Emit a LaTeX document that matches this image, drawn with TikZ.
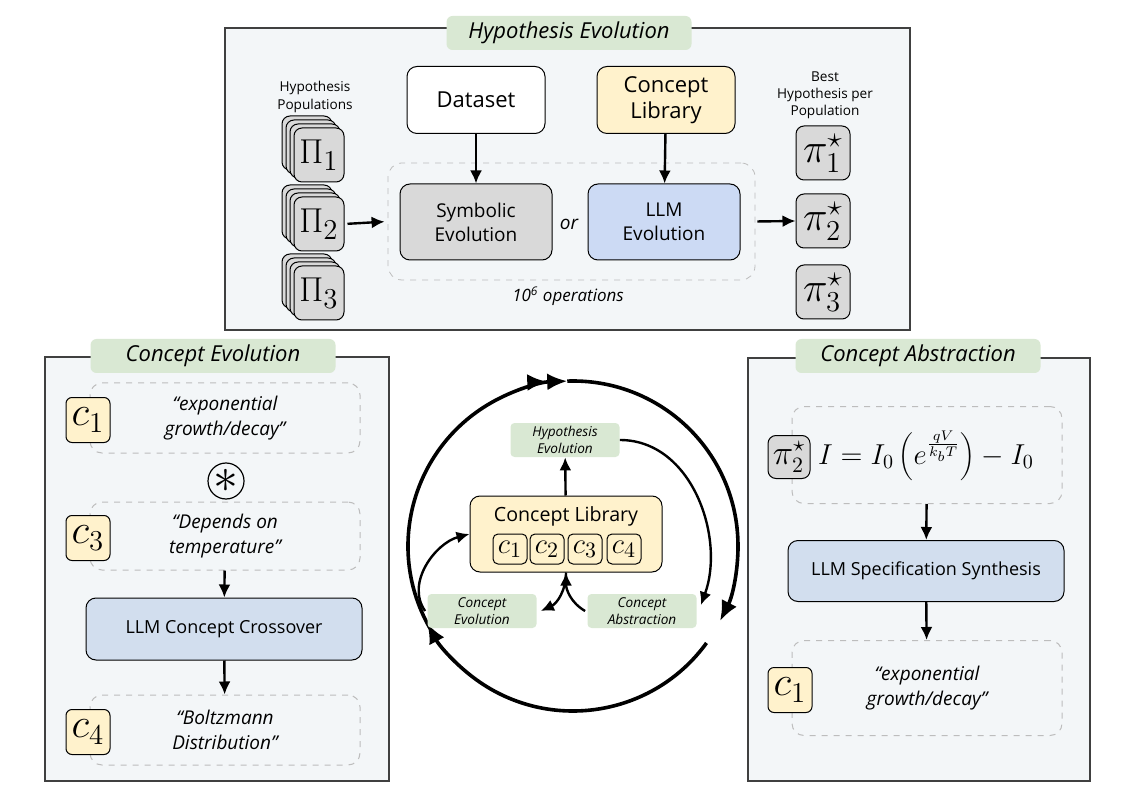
\documentclass[tikz,border=0pt]{standalone}
\usepackage[no-math]{fontspec}
\setmainfont{Open Sans}
\usetikzlibrary{arrows.meta,positioning}

\definecolor{panelfill}{HTML}{F3F6F8}
\definecolor{titlegreen}{HTML}{D9E8D3}
\definecolor{libyellow}{HTML}{FFF2CC}
\definecolor{evogray}{HTML}{D9D9D9}
\definecolor{llmblue}{HTML}{CCDAF4}
\definecolor{synthblue}{HTML}{D2DEEE}
\definecolor{dashgray}{HTML}{BDBDBD}

\tikzset{
  panel/.style={draw=black!75, line width=0.8pt, fill=panelfill},
  paneltitle/.style={fill=titlegreen, rounded corners=3pt, inner sep=0pt,
    minimum width=122.5pt, minimum height=17pt, font=\fontsize{11}{13}\selectfont\itshape},
  looptag/.style={fill=titlegreen, rounded corners=2pt, align=center, inner sep=0pt,
    minimum width=54.5pt, minimum height=17pt, font=\fontsize{6.8}{8.6}\selectfont\itshape},
  block/.style={draw, rounded corners=5pt, align=center, line width=0.5pt, inner sep=0pt},
  popbox/.style={draw, fill=evogray, rounded corners=4pt, line width=0.5pt,
    minimum width=25pt, minimum height=27pt, inner sep=0pt, font=\fontsize{19}{19}\selectfont},
  bestbox/.style={popbox, minimum width=27pt, font=\fontsize{20}{20}\selectfont},
  cbox/.style={draw, fill=libyellow, rounded corners=3pt, line width=0.5pt, inner sep=0pt,
    minimum width=22pt, minimum height=22.5pt, font=\fontsize{22}{22}\selectfont},
  smallc/.style={draw, rounded corners=2.5pt, line width=0.5pt, inner sep=0pt,
    minimum width=17pt, minimum height=15pt, font=\fontsize{15}{15}\selectfont},
  idea/.style={draw=dashgray, dashed, rounded corners=6pt, line width=0.5pt, align=center,
    inner sep=0pt, minimum width=135pt, font=\fontsize{9.5}{12.5}\selectfont\itshape},
  smalltxt/.style={align=center, font=\fontsize{6.8}{8.6}\selectfont},
  flow/.style={-{Latex[length=6.5pt,width=6pt]}, line width=1.2pt},
  cyc/.style={line width=1.8pt},
}

\begin{document}
\begin{tikzpicture}[x=0.5pt, y=0.5pt]
\useasboundingbox (0,0) rectangle (1122,-806);

% Hypothesis Evolution
\draw[panel] (225,-28) rectangle (910,-330);
\node[paneltitle] (hevtitle) at (569,-33) {Hypothesis Evolution};

\node[smalltxt] (poplabel) at (315,-97) {Hypothesis\\Populations};
\foreach \i/\y in {1/155,2/224,3/293} {
  \foreach \s in {12,8,4}
    \node[popbox] at (319-\s,-\y+\s) {};
  \node[popbox] (pop\i) at (319,-\y) {$\Pi_\i$};
}

\node[smalltxt] (bestlabel) at (825,-95) {Best\\Hypothesis per\\Population};
\foreach \i/\y in {1/153,2/221,3/292}
  \node[bestbox] (best\i) at (823,-\y) {$\pi^\star_\i$};

\node[draw=dashgray, dashed, rounded corners=7pt, minimum width=183.5pt,
  minimum height=58.5pt] (ops) at (571.5,-221.5) {};
\node[block, fill=white, minimum width=69pt, minimum height=33.5pt,
  font=\fontsize{11}{13}\selectfont] (data) at (476,-100) {Dataset};
\node[block, fill=libyellow, minimum width=69pt, minimum height=33.5pt,
  font=\fontsize{11}{13}\selectfont] (lib) at (666,-100) {Concept\\Library};
\node[block, fill=evogray, minimum width=76pt, minimum height=38pt,
  font=\fontsize{9.5}{12}\selectfont] (sym) at (476,-222) {Symbolic\\Evolution};
\node[block, fill=llmblue, minimum width=76pt, minimum height=38pt,
  font=\fontsize{9.5}{12}\selectfont] (llmevo) at (664,-222) {LLM\\Evolution};
\node[font=\fontsize{9.5}{12}\selectfont\itshape] (ortxt) at (569,-224) {or};
\node[font=\fontsize{8.5}{10}\selectfont\itshape] (opstxt) at (568,-296) {10\textsuperscript{6} operations};

\draw[flow] (data) -- (sym);
\draw[flow] (lib) -- (llmevo);
\draw[flow, shorten <=1.5pt, shorten >=1.5pt] (pop2.east) -- (ops.west);
\draw[flow, shorten <=1pt] (ops.east) -- (best2.west);

% Concept Evolution
\draw[panel] (45,-357) rectangle (389,-781);
\node[paneltitle] (cevtitle) at (213,-356) {Concept Evolution};

\node[idea, minimum height=35pt] (evo1) at (225,-418) {“exponential\\growth/decay”};
\node[idea, minimum height=34pt] (evo2) at (225,-536) {“Depends on\\temperature”};
\node[idea, minimum height=35pt] (evo3) at (225,-730) {“Boltzmann\\Distribution”};
\node[cbox] (ce1) at (88,-420) {$c_1$};
\node[cbox] (ce3) at (88,-538) {$c_3$};
\node[cbox] (ce4) at (88,-732) {$c_4$};
\node[draw, circle, line width=0.6pt, minimum size=18pt, inner sep=0pt,
  font=\fontsize{24}{24}\selectfont] (mix) at (226,-481) {\raisebox{-0.6ex}{$\ast$}};
\node[block, fill=synthblue, minimum width=138pt, minimum height=31pt,
  font=\fontsize{9}{11}\selectfont] (cross) at (224,-629) {LLM Concept Crossover};
\draw[flow] (evo2) -- (cross);
\draw[flow] (cross) -- (evo3);

% Concept Abstraction
\draw[panel] (748,-358) rectangle (1090,-781);
\node[paneltitle] (cabtitle) at (918,-356) {Concept Abstraction};

\node[idea, minimum height=48.5pt] (spec) at (927,-455) {};
\node[idea, minimum height=47.5pt] (abs1) at (927,-688) {“exponential\\growth/decay”};
\node[bestbox, minimum width=21pt, minimum height=21.5pt,
  font=\fontsize{16}{16}\selectfont] (pick) at (789,-457) {$\pi^\star_2$};
\node[font=\fontsize{13.6}{14}\selectfont] (eqn) at (926,-456)
  {$I = I_0\left(e^{\frac{qV}{k_bT}}\right) - I_0$};
\node[cbox] (ca1) at (790,-690) {$c_1$};
\node[block, fill=synthblue, minimum width=138pt, minimum height=30.5pt,
  font=\fontsize{9}{11}\selectfont] (synth) at (926,-571) {LLM Specification Synthesis};
\draw[flow] (spec) -- (synth);
\draw[flow] (synth) -- (abs1);

% cycle in the middle
\coordinate (hub) at (573,-546);
\draw[cyc, -{Latex[length=10pt,width=8.5pt]Latex[length=10pt,width=8.5pt]}]
  ([shift={(210:165)}]hub) arc[start angle=210, end angle=92, radius=165];
\draw[cyc, -{Latex[length=10pt,width=8.5pt]}]
  ([shift={(92:165)}]hub) arc[start angle=92, end angle=-27, radius=165];
\draw[cyc, -{Latex[length=10pt,width=8.5pt]}]
  ([shift={(-36:165)}]hub) arc[start angle=-36, end angle=-152, radius=165];

\node[block, fill=libyellow, minimum width=96pt, minimum height=38pt] (corelib) at (566,-534) {};
\node[font=\fontsize{9.8}{11}\selectfont] (corename) at (566,-516) {Concept Library};
\foreach \i/\x in {1/510,2/547,3/585,4/624}
  \node[smallc] (lc\i) at (\x,-549) {$c_\i$};

\node[looptag] (hyptag) at (565,-440) {Hypothesis\\Evolution};
\node[looptag] (evotag) at (482,-611) {Concept\\Evolution};
\node[looptag] (abstag) at (642,-611) {Concept\\Abstraction};

\draw[flow] (corelib) -- (hyptag);
\draw[flow] ([xshift=-1pt]evotag.west) to[out=125, in=195] (corelib.west);
\draw[flow] (hyptag.east) to[out=0, in=70] ([shift={(2pt,3pt)}]abstag.east);
\draw[flow] (corelib.south) to[out=-90, in=25] ([xshift=2pt]evotag.east);
\draw[flow] ([xshift=-1pt]abstag.west) to[out=150, in=-90] (corelib.south);
\end{tikzpicture}
\end{document}
